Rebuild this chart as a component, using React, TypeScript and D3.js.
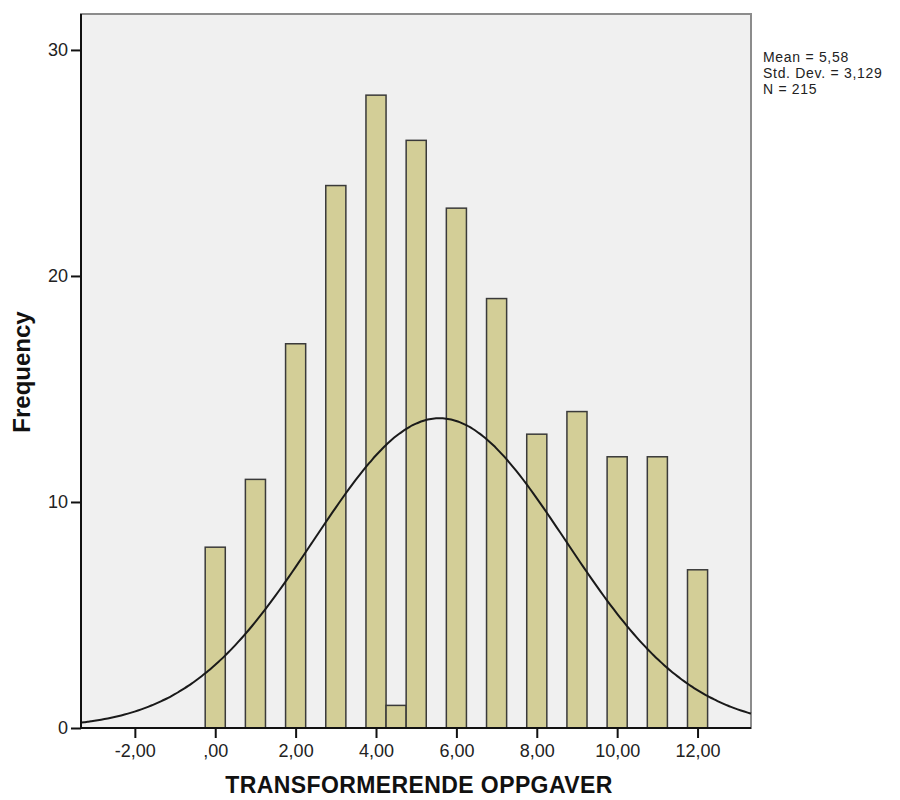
import * as d3 from "d3";
import React, { useEffect, useRef } from "react";

// bin centres (bin width 0,5) and counts
const binCenters = [0, 1, 2, 3, 4, 4.5, 5, 6, 7, 8, 9, 10, 11, 12];
const counts = [8, 11, 17, 24, 28, 1, 26, 23, 19, 13, 14, 12, 12, 7];
const xTicks = [-2, 0, 2, 4, 6, 8, 10, 12];
const yTicks = [0, 10, 20, 30];
const stats = ["Mean = 5,58", "Std. Dev. = 3,129", "N = 215"];
const mean = 5.58;
const sd = 3.129;
const n = 215;
const binWidth = 0.5;

const fmt = (v: number) => {
  const s = v.toFixed(2).replace(".", ",");
  return v === 0 ? ",00" : s;
};

const App = () => {
  const svgRef = useRef<SVGSVGElement>(null);

  useEffect(() => {
    const svg = d3.select(svgRef.current);
    svg.selectAll("*").remove();

    const left = 81;
    const right = 751;
    const top = 14;
    const bottom = 728;

    const x = d3.scaleLinear().domain([-3.34, 13.33]).range([left, right]);
    const y = d3.scaleLinear().domain([0, 31.59]).range([bottom, top]);

    svg
      .append("rect")
      .attr("x", left)
      .attr("y", top)
      .attr("width", right - left)
      .attr("height", bottom - top)
      .attr("fill", "#f0f0f0")
      .attr("stroke", "#8c8c8c")
      .attr("stroke-width", 2);

    const bars = binCenters.map((c, i) => ({ c, v: counts[i] }));

    svg
      .append("g")
      .selectAll("rect")
      .data(bars)
      .join("rect")
      .attr("x", (d) => x(d.c - binWidth / 2))
      .attr("y", (d) => y(d.v))
      .attr("width", (d) => x(d.c + binWidth / 2) - x(d.c - binWidth / 2))
      .attr("height", (d) => bottom - y(d.v))
      .attr("fill", "#d3ce97")
      .attr("stroke", "#3a3a3a")
      .attr("stroke-width", 1.5);

    // fitted normal curve from the stated mean / sd / N
    const pdf = (v: number) =>
      (n * binWidth * Math.exp(-((v - mean) ** 2) / (2 * sd * sd))) /
      (sd * Math.sqrt(2 * Math.PI));
    const [x0, x1] = x.domain();
    const curveXs = d3.range(x0, x1 + 0.001, (x1 - x0) / 200);

    svg
      .append("path")
      .datum(curveXs)
      .attr("fill", "none")
      .attr("stroke", "#1a1a1a")
      .attr("stroke-width", 2)
      .attr(
        "d",
        d3
          .line<number>()
          .x((d) => x(d))
          .y((d) => y(pdf(d)))
          .curve(d3.curveBasis)
      );

    const font = "'Liberation Sans', Arial, sans-serif";

    const xAxis = svg
      .append("g")
      .attr("transform", `translate(0,${bottom})`)
      .call(
        d3
          .axisBottom(x)
          .tickValues(xTicks)
          .tickSize(10)
          .tickPadding(6)
          .tickFormat((d) => fmt(d as number))
      );
    xAxis.select(".domain").attr("stroke", "#111").attr("stroke-width", 2).attr("d", `M${left},0H${right}`);
    xAxis.selectAll(".tick line").attr("stroke", "#111").attr("stroke-width", 2);
    xAxis
      .selectAll(".tick text")
      .attr("fill", "#222")
      .style("font-family", font)
      .style("font-size", "18px");

    const yAxis = svg
      .append("g")
      .attr("transform", `translate(${left},0)`)
      .call(d3.axisLeft(y).tickValues(yTicks).tickSize(10).tickPadding(3));
    yAxis.select(".domain").attr("stroke", "#111").attr("stroke-width", 2).attr("d", `M0,${top}V${bottom}`);
    yAxis.selectAll(".tick line").attr("stroke", "#111").attr("stroke-width", 2);
    yAxis
      .selectAll(".tick text")
      .attr("fill", "#222")
      .style("font-family", font)
      .style("font-size", "18px");

    svg
      .append("text")
      .attr("x", 419)
      .attr("y", 793)
      .attr("text-anchor", "middle")
      .style("font-family", font)
      .style("font-size", "23px")
      .style("font-weight", "bold")
      .style("letter-spacing", "0.4px")
      .attr("fill", "#111")
      .text("TRANSFORMERENDE OPPGAVER");

    svg
      .append("text")
      .attr("transform", `translate(30,372) rotate(-90)`)
      .attr("text-anchor", "middle")
      .style("font-family", font)
      .style("font-size", "24px")
      .style("font-weight", "bold")
      .attr("fill", "#111")
      .text("Frequency");

    svg
      .append("g")
      .selectAll("text")
      .data(stats)
      .join("text")
      .attr("x", 763)
      .attr("y", (d, i) => 62 + i * 16)
      .style("font-family", font)
      .style("font-size", "14px")
      .style("letter-spacing", "0.7px")
      .attr("fill", "#222")
      .text((d) => d);
  }, []);

  return (
    <svg
      ref={svgRef}
      width={900}
      height={800}
      style={{ position: "absolute", left: 0, top: 0, background: "#fff" }}
    ></svg>
  );
};

export default App;
